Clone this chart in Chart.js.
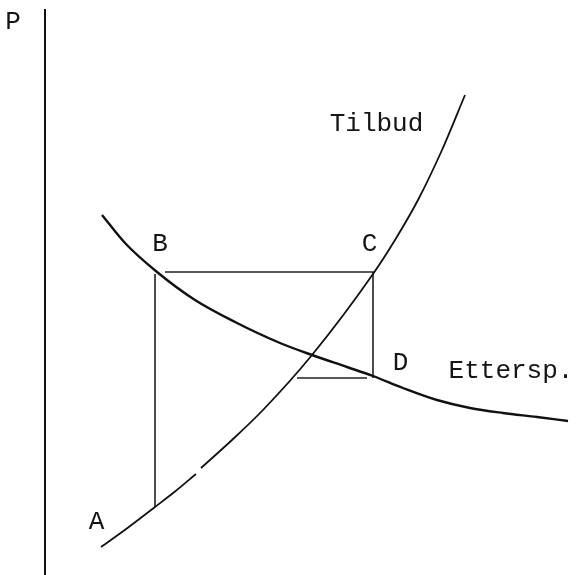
<!DOCTYPE html>
<html>
<head>
<meta charset="utf-8">
<script src="https://cdn.jsdelivr.net/npm/chart.js@4"></script>
<style>
  html, body { margin: 0; padding: 0; background: #fff; }
  #wrap { width: 581px; height: 575px; }
</style>
</head>
<body>
<div id="wrap"><canvas id="c" width="581" height="575"></canvas></div>
<script>
// quantity (x) / price (y) in chart units
const supplyQ = [11.2, 16.5, 22, 26, 30.2, 30.7, 31.2, 37.4, 43.6, 53.4, 65.6, 70, 74.6, 79.4, 84];
const supplyP = [5.6, 9.4, 13.6, 16.7, 20.2, null, 21.4, 27, 33, 44, 60.2, 67, 75, 85, 96];

const demandQ = [11.4, 16, 22.4, 30, 38, 47, 53.4, 60.4, 65.6, 71.6, 78.4, 85, 91.6, 98.4, 104.6];
const demandP = [72, 66.4, 60.6, 55, 50.6, 46.4, 44, 41.6, 39.8, 37.4, 35, 33.4, 32.4, 31.6, 30.8];

// B-A drop, B-C-D path and the short line left of D (null = break)
const guideQ = [22, 22, null, 24, 65.6, 65.6, null, 50.4, 64.4];
const guideP = [13.6, 60.2, null, 60.6, 60.6, 39.4, null, 39.4, 39.4];

const labelText = ['P', 'B', 'C', 'D', 'A', 'Tilbud', 'Ettersp.'];
const labelQ = [-6.4, 23, 64.9, 71.1, 10.3, 66.3, 93.2];
const labelP = [110.6, 66.2, 66.2, 42.3, 10.5, 90.1, 40.8];

const pts = (xs, ys) => xs.map((x, i) => ({ x: x, y: ys[i] }));

const labels = {
  id: 'labels',
  afterDatasetsDraw(chart) {
    const { ctx, scales } = chart;
    ctx.save();
    ctx.fillStyle = '#151515';
    ctx.font = '26px "Liberation Mono", monospace';
    ctx.textAlign = 'center';
    ctx.textBaseline = 'middle';
    labelText.forEach((t, i) => {
      ctx.fillText(t, scales.x.getPixelForValue(labelQ[i]), scales.y.getPixelForValue(labelP[i]));
    });
    ctx.restore();
  }
};

new Chart(document.getElementById('c'), {
  type: 'scatter',
  data: {
    datasets: [
      { label: 'Tilbud', data: pts(supplyQ, supplyP), showLine: true, spanGaps: false,
        borderColor: '#111', borderWidth: 1.8, pointRadius: 0, cubicInterpolationMode: 'monotone' },
      { label: 'Ettersp.', data: pts(demandQ, demandP), showLine: true,
        borderColor: '#111', borderWidth: 2.4, pointRadius: 0, cubicInterpolationMode: 'monotone' },
      { label: 'guides', data: pts(guideQ, guideP), showLine: true, spanGaps: false,
        borderColor: '#222', borderWidth: 1.6, pointRadius: 0, tension: 0 }
    ]
  },
  options: {
    responsive: false,
    animation: false,
    devicePixelRatio: 1,
    layout: { padding: { top: 10, left: 0, right: 0, bottom: 0 } },
    plugins: { legend: { display: false }, tooltip: { enabled: false } },
    scales: {
      x: { type: 'linear', min: 0, max: 107.2, display: false },
      y: {
        type: 'linear', min: 0, max: 113, position: 'left',
        ticks: { display: false },
        grid: { drawOnChartArea: false, drawTicks: false },
        border: { display: true, color: '#111', width: 2 },
        afterFit(s) { s.width = 45; }
      }
    }
  },
  plugins: [labels]
});
</script>
</body>
</html>
